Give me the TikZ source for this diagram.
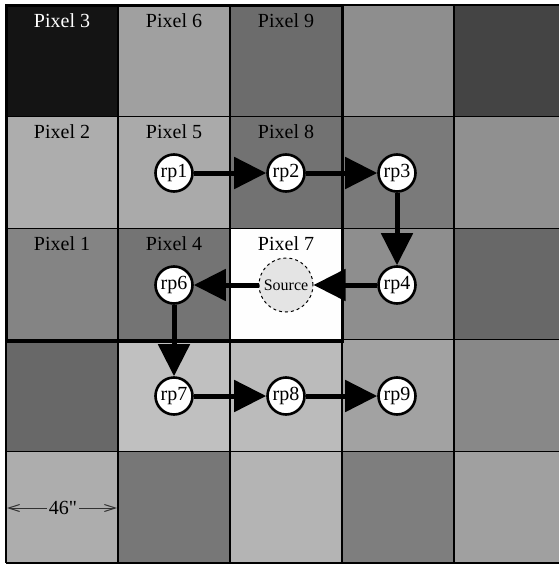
\documentclass[tikz,border=0pt]{standalone}
\usepackage{fontspec}
\setmainfont{Liberation Serif}[Ligatures=TeXOff]
\usetikzlibrary{arrows.meta}

\definecolor{srcfill}{RGB}{228,228,228}
\definecolor{dimgrey}{RGB}{50,50,50}

\tikzset{
  cellline/.style={draw=black, line width=1.3pt},
  pixlabel/.style={anchor=base, inner sep=0pt, font=\fontsize{20}{24}\selectfont},
  rp/.style={circle, draw=black, line width=2.6pt, fill=white, minimum size=37pt,
    inner sep=0pt, font=\fontsize{20}{24}\selectfont},
  srcnode/.style={circle, draw=black, dashed, line width=1pt, fill=srcfill,
    minimum size=54pt, inner sep=0pt, font=\fontsize{16}{19}\selectfont},
  flow/.style={line width=5pt, -{Triangle[length=32pt,width=31pt]}},
  dimline/.style={draw=dimgrey, line width=1pt, -{Straight Barb[length=11pt,width=7pt]}},
}

\begin{document}
\begin{tikzpicture}[x=1pt, y=-1pt]
  \useasboundingbox (0,0) rectangle (559,565);
  \clip (0,0) rectangle (559,565);

  % grey levels of the 5x5 cells (row/column/level)
  \foreach \r/\c/\g in {
      0/0/20, 0/1/160, 0/2/108, 0/3/142, 0/4/68,
      1/0/173, 1/1/170, 1/2/114, 1/3/122, 1/4/144,
      2/0/132, 2/1/116, 2/2/254, 2/3/142, 2/4/104,
      3/0/104, 3/1/192, 3/2/187, 3/3/162, 3/4/136,
      4/0/173, 4/1/119, 4/2/180, 4/3/126, 4/4/160} {
    \definecolor{cellc}{RGB}{\g,\g,\g}
    \fill[cellc]
      ({6+112*\c},{5+111.6*\r}) rectangle ({118+112*\c},{116.6+111.6*\r});
  }
  \foreach \c in {0,...,5} {
    \draw[cellline] ({6+112*\c},5) -- ({6+112*\c},563);
  }
  \foreach \r in {0,...,5} {
    \draw[cellline] (6,{5+111.6*\r}) -- (566,{5+111.6*\r});
  }

  % 3x3 neighbourhood outline
  \draw[line width=3pt] (6,5) rectangle (342,341);

  % pixel labels
  \node[pixlabel, text=white] (p3) at (62,27) {Pixel 3};
  \node[pixlabel] (p6) at (174,27) {Pixel 6};
  \node[pixlabel] (p9) at (286,27) {Pixel 9};
  \node[pixlabel] (p2) at (62,138.6) {Pixel 2};
  \node[pixlabel] (p5) at (174,138.6) {Pixel 5};
  \node[pixlabel] (p8) at (286,138.6) {Pixel 8};
  \node[pixlabel] (p1) at (62,250.2) {Pixel 1};
  \node[pixlabel] (p4) at (174,250.2) {Pixel 4};
  \node[pixlabel] (p7) at (286,250.2) {Pixel 7};

  % reference points and source
  \node[rp] (rp1) at (174,173) {rp1};
  \node[rp] (rp2) at (286,173) {rp2};
  \node[rp] (rp3) at (397,173) {rp3};
  \node[rp] (rp4) at (397,285) {rp4};
  \node[srcnode] (src) at (286,285) {Source};
  \node[rp] (rp6) at (174,285) {rp6};
  \node[rp] (rp7) at (174,396) {rp7};
  \node[rp] (rp8) at (286,396) {rp8};
  \node[rp] (rp9) at (397,396) {rp9};

  % traversal path
  \draw[flow] (rp1) -- (rp2);
  \draw[flow] (rp2) -- (rp3);
  \draw[flow] (rp3) -- (rp4);
  \draw[flow] (rp4) -- (src);
  \draw[flow] (src) -- (rp6);
  \draw[flow] (rp6) -- (rp7);
  \draw[flow] (rp7) -- (rp8);
  \draw[flow] (rp8) -- (rp9);

  % cell width dimension
  \coordinate (dimL) at (7,508);
  \coordinate (dimR) at (117,508);
  \node[inner sep=2pt, font=\fontsize{20}{24}\selectfont] (dim) at (63,508) {46"};
  \draw[dimline] (dim.west) -- (dimL);
  \draw[dimline] (dim.east) -- (dimR);
\end{tikzpicture}
\end{document}
